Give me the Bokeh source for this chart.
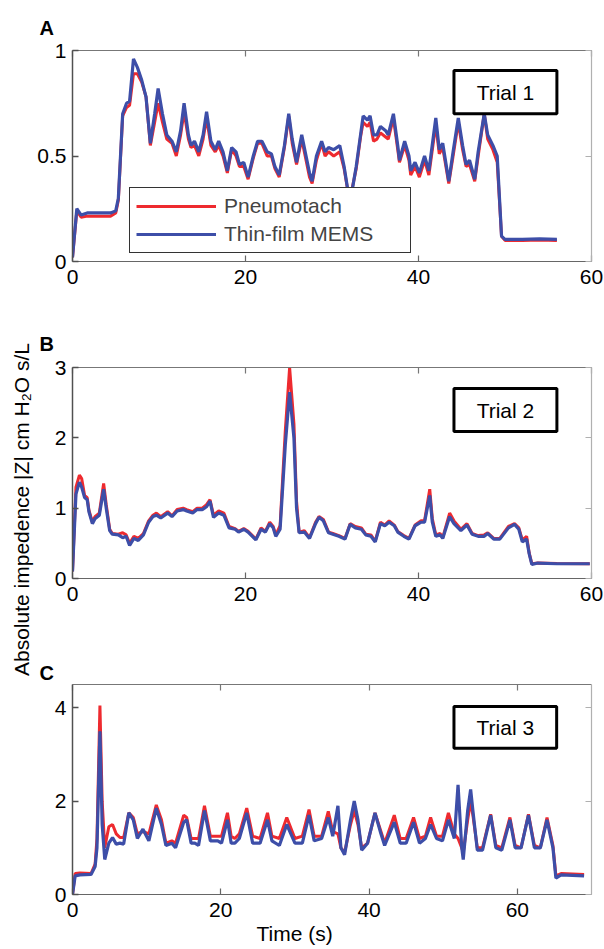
import math
from bokeh.plotting import figure
from bokeh.layouts import row, column
from bokeh.models import (Range1d, LinearAxis, FixedTicker, Label, Legend,
                          LegendItem, BoxAnnotation, Title)
from bokeh.embed import file_html
from bokeh.resources import INLINE

# ---------------- data ----------------
tA = [0, 0.5, 1.0, 1.7, 4.4, 5.0, 5.3, 5.8, 6.25, 6.6, 7.05, 7.5, 8.0, 8.5, 9.0, 9.5, 9.9,
      10.4, 10.9, 11.5, 12.0, 12.5, 12.9, 13.4, 13.7, 14.1, 14.6, 15.1, 15.5, 16.0, 16.5,
      16.9, 17.4, 17.9, 18.4, 18.9, 19.3, 19.8, 20.3, 20.9, 21.4, 21.9, 22.5, 23.0, 23.4,
      23.9, 24.5, 25.0, 25.4, 25.9, 26.5, 27.0, 27.4, 27.7, 28.2, 28.8, 29.2, 29.6, 30.2,
      30.9, 31.4, 31.9, 32.3, 32.8, 33.3, 33.6, 34.1, 34.4, 34.8, 35.2, 35.6, 36.2, 36.5,
      37.1, 37.6, 37.8, 38.4, 38.9, 39.1, 39.6, 40.1, 40.7, 41.2, 42.0, 42.4, 42.8, 43.5,
      44.0, 44.6, 45.1, 45.5, 45.9, 46.5, 46.9, 47.6, 48.0, 48.6, 49.1, 49.6, 50.0, 52.0,
      54.0, 56.0]
memsA = [0.02, 0.25, 0.22, 0.23, 0.23, 0.24, 0.30, 0.70, 0.75, 0.76, 0.96, 0.92, 0.86, 0.78,
         0.56, 0.70, 0.82, 0.70, 0.60, 0.57, 0.52, 0.62, 0.75, 0.60, 0.55, 0.57, 0.52, 0.60,
         0.71, 0.57, 0.53, 0.57, 0.52, 0.43, 0.54, 0.52, 0.46, 0.47, 0.40, 0.50, 0.57, 0.57,
         0.52, 0.51, 0.45, 0.41, 0.55, 0.70, 0.58, 0.47, 0.60, 0.50, 0.42, 0.38, 0.50, 0.57,
         0.52, 0.54, 0.53, 0.55, 0.45, 0.32, 0.33, 0.45, 0.60, 0.69, 0.67, 0.69, 0.60, 0.60,
         0.64, 0.62, 0.60, 0.70, 0.55, 0.48, 0.57, 0.50, 0.43, 0.47, 0.42, 0.50, 0.43, 0.68,
         0.53, 0.56, 0.38, 0.52, 0.68, 0.55, 0.46, 0.48, 0.39, 0.52, 0.70, 0.60, 0.55, 0.50,
         0.12, 0.105, 0.105, 0.107, 0.105]
pneuA = [0.02, 0.24, 0.21, 0.215, 0.215, 0.23, 0.29, 0.69, 0.73, 0.74, 0.89, 0.89, 0.85, 0.78,
         0.55, 0.66, 0.75, 0.66, 0.58, 0.56, 0.50, 0.60, 0.71, 0.58, 0.54, 0.55, 0.50, 0.58,
         0.68, 0.55, 0.52, 0.55, 0.50, 0.42, 0.53, 0.50, 0.45, 0.45, 0.39, 0.49, 0.56, 0.56,
         0.50, 0.50, 0.44, 0.40, 0.54, 0.69, 0.56, 0.46, 0.58, 0.48, 0.40, 0.37, 0.48, 0.56,
         0.50, 0.52, 0.50, 0.52, 0.44, 0.32, 0.34, 0.44, 0.59, 0.66, 0.64, 0.66, 0.57, 0.58,
         0.61, 0.59, 0.58, 0.68, 0.53, 0.47, 0.55, 0.48, 0.41, 0.45, 0.40, 0.48, 0.41, 0.65,
         0.51, 0.54, 0.37, 0.50, 0.66, 0.53, 0.45, 0.46, 0.38, 0.50, 0.70, 0.58, 0.53, 0.47,
         0.12, 0.10, 0.10, 0.102, 0.10]

tB = [0.0, 0.4, 0.8, 1.06, 1.4, 1.7, 1.9, 2.3, 2.6, 3.1, 3.6, 3.9, 4.3, 4.6, 5.3, 5.8, 6.2,
      6.6, 7.1, 7.6, 8.2, 8.8, 9.3, 9.7, 10.2, 11.0, 11.5, 12.1, 12.8, 13.2, 13.9, 14.4, 15.0,
      15.5, 15.9, 16.3, 16.9, 17.5, 18.1, 18.8, 19.2, 19.8, 20.3, 21.2, 21.8, 22.3, 22.8,
      23.2, 23.5, 24.0, 24.6, 25.1, 25.6, 25.9, 26.2, 26.8, 27.4, 28.1, 28.5, 29.0, 29.6,
      30.1, 30.8, 31.5, 32.1, 32.7, 33.4, 33.9, 34.5, 35.0, 35.6, 36.1, 36.6, 37.2, 37.6,
      38.3, 38.9, 39.6, 40.3, 40.7, 41.3, 41.6, 42.0, 42.5, 42.8, 43.6, 44.1, 44.9, 45.6,
      46.2, 46.9, 47.6, 48.0, 48.7, 49.4, 50.4, 51.1, 51.6, 52.0, 52.5, 52.8, 53.1, 53.8,
      56.0, 59.8]
memsB = [0.10, 1.20, 1.37, 1.30, 1.15, 1.12, 0.95, 0.78, 0.85, 0.90, 1.27, 1.00, 0.68, 0.63,
         0.62, 0.58, 0.60, 0.47, 0.57, 0.54, 0.62, 0.80, 0.88, 0.90, 0.86, 0.93, 0.88, 0.96,
         0.98, 0.96, 0.93, 0.98, 0.98, 1.02, 1.10, 0.87, 0.93, 0.90, 0.72, 0.70, 0.66, 0.70,
         0.66, 0.55, 0.70, 0.66, 0.78, 0.72, 0.60, 0.70, 1.90, 2.65, 2.00, 1.00, 0.65, 0.66,
         0.57, 0.78, 0.87, 0.82, 0.65, 0.63, 0.60, 0.56, 0.77, 0.72, 0.70, 0.62, 0.60, 0.52,
         0.78, 0.75, 0.80, 0.75, 0.66, 0.60, 0.56, 0.75, 0.80, 0.80, 1.18, 0.80, 0.60, 0.62,
         0.57, 0.88, 0.78, 0.68, 0.76, 0.63, 0.60, 0.60, 0.64, 0.56, 0.56, 0.72, 0.77, 0.70,
         0.52, 0.56, 0.35, 0.20, 0.22, 0.21, 0.21]
pneuB = [0.10, 1.30, 1.47, 1.42, 1.18, 1.15, 0.97, 0.80, 0.88, 0.93, 1.35, 1.05, 0.70, 0.64,
         0.63, 0.65, 0.62, 0.50, 0.60, 0.57, 0.64, 0.82, 0.90, 0.93, 0.88, 0.95, 0.89, 0.98,
         1.00, 0.98, 0.95, 1.00, 1.00, 1.05, 1.12, 0.90, 0.96, 0.93, 0.74, 0.71, 0.67, 0.71,
         0.67, 0.56, 0.72, 0.67, 0.80, 0.74, 0.62, 0.75, 2.10, 3.00, 2.20, 1.10, 0.66, 0.68,
         0.58, 0.80, 0.88, 0.84, 0.66, 0.64, 0.61, 0.57, 0.78, 0.74, 0.72, 0.63, 0.62, 0.53,
         0.80, 0.76, 0.82, 0.76, 0.67, 0.61, 0.57, 0.76, 0.82, 0.82, 1.27, 0.85, 0.62, 0.64,
         0.58, 0.93, 0.82, 0.70, 0.78, 0.64, 0.61, 0.62, 0.65, 0.57, 0.57, 0.74, 0.78, 0.72,
         0.55, 0.60, 0.36, 0.21, 0.22, 0.215, 0.21]

tC = [0.0, 0.36, 1.0, 2.5, 3.05, 3.3, 3.7, 4.0, 4.35, 4.9, 5.4, 5.9, 6.4, 6.9, 7.6, 8.2,
      8.75, 9.5, 10.3, 11.3, 12.0, 12.6, 13.4, 13.9, 15.0, 15.4, 16.0, 16.5, 17.0, 17.8,
      18.6, 19.6, 20.1, 20.9, 21.4, 21.9, 22.5, 23.5, 24.3, 25.3, 26.3, 26.9, 27.9, 28.9,
      30.0, 31.0, 31.9, 32.6, 33.6, 34.5, 35.1, 35.8, 36.2, 36.7, 37.5, 38.0, 38.5, 39.0,
      39.8, 40.8, 41.6, 42.1, 43.4, 44.2, 45.0, 46.0, 46.8, 47.6, 48.3, 49.1, 49.9, 50.7,
      51.5, 52.0, 52.5, 52.7, 53.3, 53.7, 54.0, 54.6, 55.3, 56.4, 57.1, 57.9, 59.0, 59.7,
      60.5, 61.5, 62.3, 63.1, 64.0, 64.8, 65.2, 65.9, 69.0]
memsC = [0.00, 0.40, 0.42, 0.43, 0.60, 1.00, 3.50, 1.50, 0.75, 1.10, 1.22, 1.08, 1.10, 1.08,
         1.75, 1.60, 1.20, 1.40, 1.15, 1.85, 1.50, 1.05, 1.10, 1.00, 1.55, 1.60, 1.10, 1.10,
         1.05, 1.80, 1.15, 1.15, 1.10, 1.60, 1.10, 1.10, 1.20, 1.75, 1.10, 1.10, 1.60, 1.15,
         1.05, 1.50, 1.10, 1.10, 1.70, 1.15, 1.20, 1.65, 1.25, 1.90, 1.00, 0.85, 1.60, 2.00,
         1.60, 0.95, 1.10, 1.75, 1.30, 1.05, 1.55, 1.10, 1.10, 1.55, 1.10, 1.20, 1.50, 1.20,
         1.15, 1.60, 1.20, 2.35, 1.00, 0.75, 1.80, 2.25, 1.80, 0.95, 0.95, 1.70, 1.00, 0.95,
         1.60, 1.00, 1.00, 1.70, 1.00, 1.00, 1.60, 1.00, 0.35, 0.42, 0.40]
pneuC = [0.00, 0.45, 0.46, 0.45, 0.65, 1.20, 4.05, 2.00, 1.00, 1.45, 1.50, 1.30, 1.22, 1.22,
         1.75, 1.65, 1.30, 1.35, 1.30, 1.92, 1.60, 1.10, 1.15, 1.10, 1.70, 1.65, 1.20, 1.20,
         1.20, 1.90, 1.25, 1.25, 1.25, 1.75, 1.25, 1.20, 1.30, 1.85, 1.25, 1.20, 1.75, 1.25,
         1.20, 1.65, 1.20, 1.25, 1.82, 1.25, 1.25, 1.78, 1.35, 1.30, 1.00, 0.90, 1.50, 1.80,
         1.50, 1.00, 1.10, 1.75, 1.35, 1.10, 1.70, 1.20, 1.20, 1.65, 1.20, 1.25, 1.65, 1.25,
         1.25, 1.75, 1.30, 1.20, 1.00, 0.90, 1.60, 2.00, 1.70, 1.00, 1.00, 1.72, 1.05, 1.00,
         1.65, 1.05, 1.00, 1.72, 1.05, 1.00, 1.65, 1.05, 0.40, 0.45, 0.43]

x_ticks = [0, 20, 40, 60]
y_ticks_A = [0, 0.5, 1]
y_ticks_B = [0, 1, 2, 3]
y_ticks_C = [0, 2, 4]
series_names = ["Pneumotach", "Thin-film MEMS"]
trial_names = ["Trial 1", "Trial 2", "Trial 3"]
panel_letters = ["A", "B", "C"]
y_label = "Absolute impedence |Z| cm H\u2082O s/L"
x_label = "Time (s)"

# ---------------- style ----------------
FONT = "Liberation Sans"
RED = "#EE2A2F"
BLUE = "#3D4EA8"
FS = "21px"


def style_axis(ax, ticks, labels=True, color="#555555", width=1.3):
    ax.ticker = FixedTicker(ticks=ticks)
    ax.major_tick_in = 6
    ax.major_tick_out = 0
    ax.minor_tick_line_color = None
    ax.axis_line_color = color
    ax.axis_line_width = width
    ax.major_tick_line_color = color
    ax.major_tick_line_width = width
    if labels:
        ax.major_label_text_font = FONT
        ax.major_label_text_font_size = FS
        ax.major_label_text_color = "black"
    else:
        ax.major_label_text_font_size = "0px"
        ax.major_label_text_color = None
        ax.major_label_standoff = 0


def make_panel(h, top, bottom, xmax, ymax, yticks, yover, letter, letter_standoff):
    p = figure(width=570, height=h, min_border_left=36, min_border_right=13,
               min_border_top=top, min_border_bottom=bottom,
               x_range=Range1d(0, xmax), y_range=Range1d(0, ymax),
               toolbar_location=None, output_backend="svg")
    p.outline_line_color = None
    p.xgrid.visible = False
    p.ygrid.visible = False
    style_axis(p.xaxis[0], x_ticks, color="#666666", width=1.2)
    p.xaxis[0].major_label_standoff = 8
    style_axis(p.yaxis[0], yticks, color="#505050", width=1.5)
    p.yaxis[0].major_label_standoff = 6
    p.yaxis[0].major_label_overrides = yover
    top_ax = LinearAxis()
    style_axis(top_ax, x_ticks, labels=False, color="#777777", width=1.2)
    p.add_layout(top_ax, "above")
    right_ax = LinearAxis()
    style_axis(right_ax, yticks, labels=False, color="#b0b0b0", width=1.2)
    p.add_layout(right_ax, "right")
    p.title.text = letter
    p.title.align = "left"
    p.title.offset = -33
    p.title.text_font = FONT
    p.title.text_font_size = "20px"
    p.title.text_font_style = "bold"
    p.title.text_color = "black"
    p.title.standoff = letter_standoff
    return p


def add_lines(p, t, pneu, mems):
    r1 = p.line(t, pneu, line_color=RED, line_width=3)
    r2 = p.line(t, mems, line_color=BLUE, line_width=3.2)
    return r1, r2


def add_trial(p, text, left, right, bottom, top):
    p.add_layout(BoxAnnotation(left=left, right=right, bottom=bottom, top=top,
                               fill_color=None, fill_alpha=0, line_color="black",
                               line_alpha=1.0, line_width=3, level="overlay"))
    p.add_layout(Label(x=(left + right) / 2, y=(bottom + top) / 2, text=text,
                       text_align="center", text_baseline="middle",
                       text_font=FONT, text_font_size=FS, text_color="black"))


# Panel A
pA = make_panel(317, 50, 56, 60, 1, y_ticks_A, {0: "0", 0.5: "0.5", 1: "1"},
                panel_letters[0], 24)
rA1, rA2 = add_lines(pA, tA, pneuA, memsA)
legend = Legend(items=[LegendItem(label=series_names[0], renderers=[rA1]),
                       LegendItem(label=series_names[1], renderers=[rA2])],
                location=(57, 8), orientation="vertical")
legend.label_text_font = FONT
legend.label_text_font_size = FS
legend.glyph_width = 80
legend.glyph_height = 24
legend.label_height = 24
legend.label_width = 180
legend.label_standoff = 8
legend.padding = 6
legend.spacing = 4
legend.margin = 0
legend.border_line_color = "#333333"
legend.border_line_width = 1.8
legend.border_line_alpha = 1
legend.background_fill_color = "white"
legend.background_fill_alpha = 1
pA.add_layout(legend, "center")
add_trial(pA, trial_names[0], 44.1, 56.0, 0.70, 0.905)

# Panel B
pB = make_panel(317, 50, 56, 60, 3, y_ticks_B, {0: "0", 1: "1", 2: "2", 3: "3"},
                panel_letters[1], 26)
add_lines(pB, tB, pneuB, memsB)
add_trial(pB, trial_names[1], 44.1, 56.0, 2.09, 2.70)

# Panel C
pC = make_panel(314, 50, 53, 70, 4.5, y_ticks_C, {0: "0", 2: "2", 4: "4"},
                panel_letters[2], 1)
add_lines(pC, tC, pneuC, memsC)
add_trial(pC, trial_names[2], 51.45, 65.3, 3.135, 4.03)
xt = Title(text=x_label, align="left", offset=184, text_font=FONT, text_font_size=FS,
           text_font_style="normal", text_color="black", standoff=4,
           vertical_align="top")
pC.add_layout(xt, "below")

# Shared y label in a narrow side canvas
side = figure(width=34, height=948, min_border=0, x_range=Range1d(0, 1),
              y_range=Range1d(0, 1), x_axis_type=None, y_axis_type=None,
              toolbar_location=None, output_backend="svg")
side.outline_line_color = None
side.add_layout(Label(x=21, y=439, x_units="screen", y_units="screen", text=y_label,
                      angle=math.pi / 2, text_align="center", text_baseline="middle",
                      text_font=FONT, text_font_size=FS, text_color="black"))

layout = row(side, column(pA, pB, pC))
open("out.html", "w").write(file_html(layout, INLINE))
